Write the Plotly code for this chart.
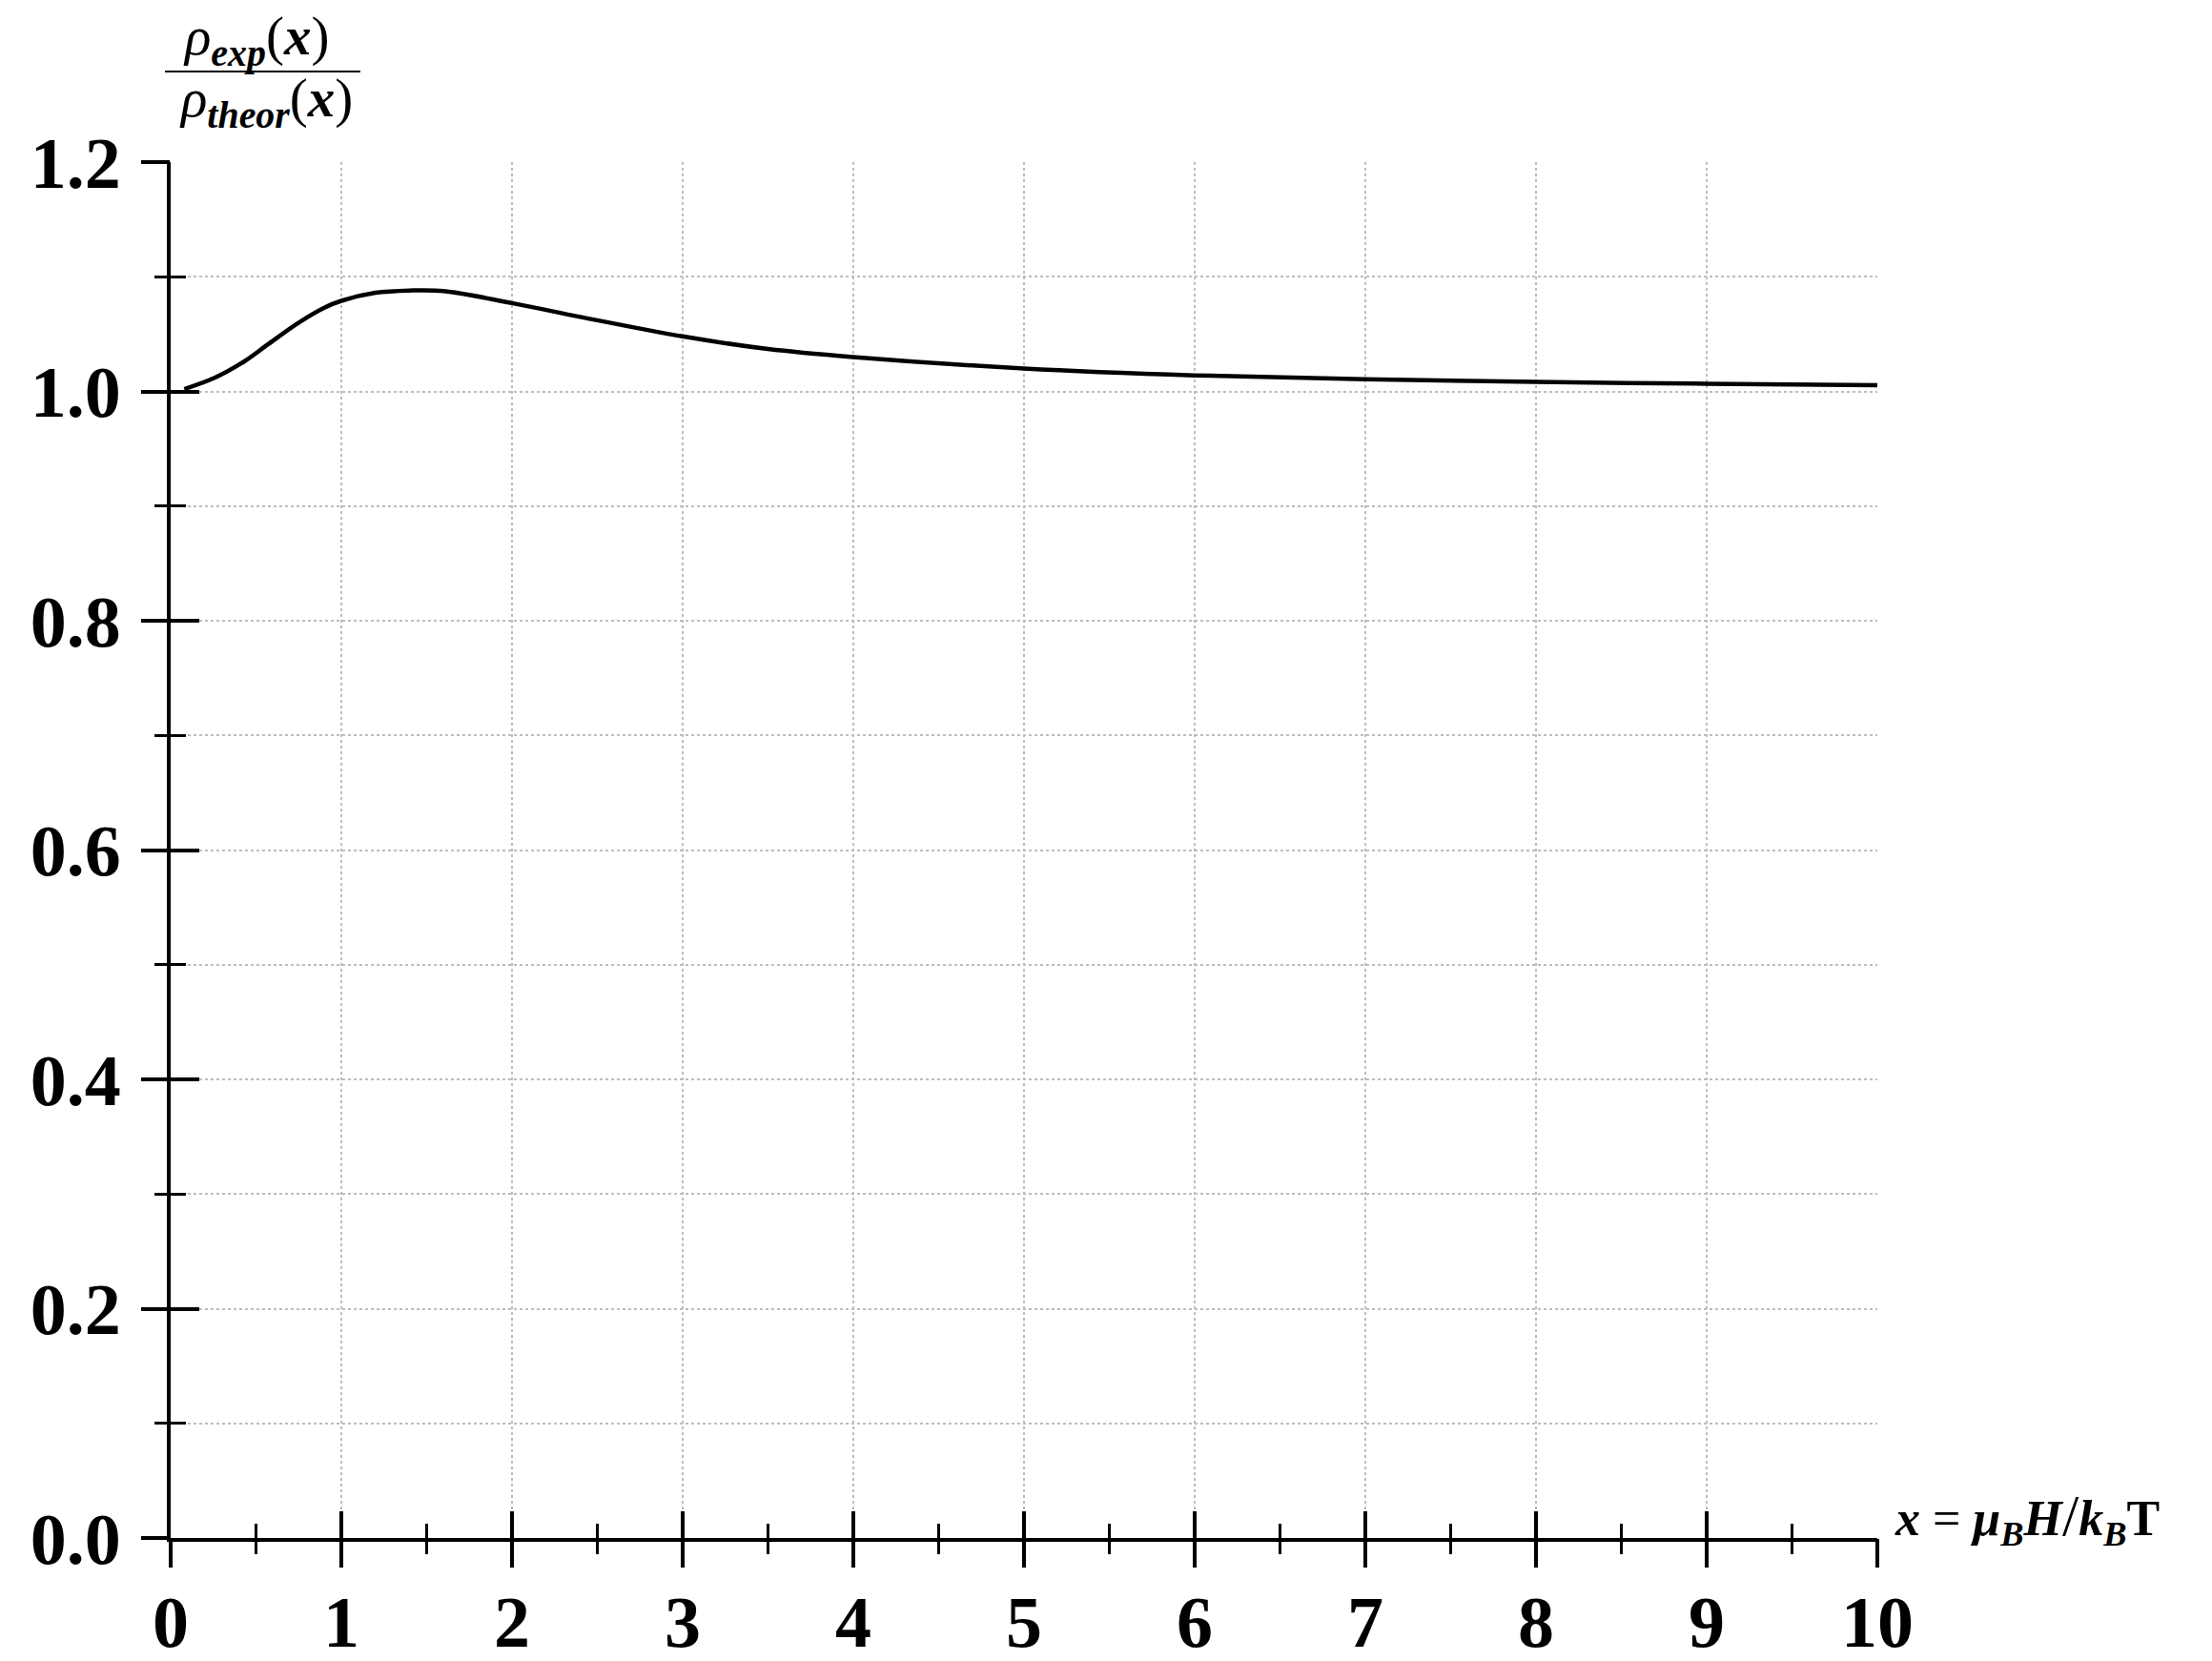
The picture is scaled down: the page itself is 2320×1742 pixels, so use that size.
import plotly.graph_objects as go

# ---- data ----
x_vals = [0.08, 0.26, 0.43, 0.57, 0.74, 0.9, 1.0, 1.2, 1.4, 1.6, 2.0, 2.4, 3.0, 3.5, 4.0,
          5.0, 6.0, 7.0, 8.0, 9.0, 10.0]
y_vals = [1.002, 1.012, 1.026, 1.041, 1.059, 1.073, 1.079, 1.086, 1.088, 1.0875, 1.077,
          1.065, 1.048, 1.037, 1.030, 1.020, 1.014, 1.0105, 1.0083, 1.0067, 1.0055]
x_ticks = [0, 1, 2, 3, 4, 5, 6, 7, 8, 9, 10]
x_tick_labels = ["0", "1", "2", "3", "4", "5", "6", "7", "8", "9", "10"]
y_ticks = [0.0, 0.2, 0.4, 0.6, 0.8, 1.0, 1.2]
y_tick_labels = ["0.0", "0.2", "0.4", "0.6", "0.8", "1.0", "1.2"]
x_minor = [0.5, 1.5, 2.5, 3.5, 4.5, 5.5, 6.5, 7.5, 8.5, 9.5]
y_minor = [0.1, 0.3, 0.5, 0.7, 0.9, 1.1]

OFF = 8  # default page body margin
W, H = 2320 - OFF, 1742 - OFF
L, T = 179 - OFF, 170 - OFF
PW, PH = 1790, 1443
R, B = W - L - PW, H - T - PH

def px(xp):
    return (xp - OFF - L) / PW

def py(yp):
    return (H - B - (yp - OFF)) / PH

FONT = "Liberation Serif"
tickfont = dict(family=FONT, size=76, color="black", weight="bold")
GRID = "#bdbdbd"

fig = go.Figure()
fig.add_trace(go.Scatter(x=x_vals, y=y_vals, mode="lines", line=dict(color="black", width=4.5, shape="spline"),
                         showlegend=False, hoverinfo="skip"))
# invisible trace carrying the outer half of the crossing ticks
fig.add_trace(go.Scatter(x=[0], y=[0], xaxis="x2", yaxis="y2", mode="markers",
                         marker=dict(opacity=0), showlegend=False, hoverinfo="skip"))

fig.update_layout(
    width=W, height=H,
    margin=dict(l=L, r=R, t=T, b=B, autoexpand=False),
    paper_bgcolor="white", plot_bgcolor="white",
    xaxis=dict(range=[0, 10], tickmode="array", tickvals=x_ticks, ticktext=x_tick_labels,
               ticks="inside", ticklen=28, tickwidth=4, tickcolor="black",
               showline=True, linewidth=4, linecolor="black", automargin=False,
               showgrid=True, gridcolor=GRID, griddash="dot", gridwidth=1.5,
               zeroline=False, tickfont=tickfont, ticklabelstandoff=19,
               minor=dict(tickvals=x_minor, ticks="inside", ticklen=15,
                          tickwidth=3, tickcolor="black", showgrid=False)),
    yaxis=dict(range=[0, 1.2], tickmode="array", tickvals=y_ticks, ticktext=y_tick_labels,
               ticks="inside", ticklen=30, tickwidth=4, tickcolor="black",
               showline=True, linewidth=4, linecolor="black", automargin=False,
               showgrid=True, gridcolor=GRID, griddash="dot", gridwidth=1.5,
               zeroline=False, tickfont=tickfont, ticklabelstandoff=33,
               minor=dict(tickvals=y_minor, ticks="inside", ticklen=16,
                          tickwidth=3, tickcolor="black",
                          showgrid=True, gridcolor=GRID, griddash="dot", gridwidth=1.5)),
    xaxis2=dict(overlaying="x", anchor="y", matches="x", range=[0, 10], tickmode="array",
                tickvals=x_ticks, ticks="outside", ticklen=30, tickwidth=4, tickcolor="black",
                showticklabels=False, showline=False, showgrid=False, zeroline=False, automargin=False,
                minor=dict(tickvals=x_minor, ticks="outside", ticklen=16,
                           tickwidth=3, tickcolor="black", showgrid=False)),
    yaxis2=dict(overlaying="y", anchor="x", matches="y", range=[0, 1.2], tickmode="array",
                tickvals=y_ticks, ticks="outside", ticklen=30, tickwidth=4, tickcolor="black",
                showticklabels=False, showline=False, showgrid=False, zeroline=False, automargin=False,
                minor=dict(tickvals=y_minor, ticks="outside", ticklen=16,
                           tickwidth=3, tickcolor="black", showgrid=False)),
)

# y-axis title as a fraction
fig.add_annotation(xref="paper", yref="paper", x=px(268), y=py(42), xanchor="center", yanchor="middle",
                   text="<i>ρ</i><sub><b><i>exp</i></b></sub>(<b><i>x</i></b>)", showarrow=False,
                   font=dict(family=FONT, size=57, color="black"))
fig.add_annotation(xref="paper", yref="paper", x=px(279), y=py(107), xanchor="center", yanchor="middle",
                   text="<i>ρ</i><sub><b><i>theor</i></b></sub>(<b><i>x</i></b>)", showarrow=False,
                   font=dict(family=FONT, size=57, color="black"))
fig.add_shape(type="line", xref="paper", yref="paper", x0=px(173), x1=px(378), y0=py(75), y1=py(75),
              line=dict(color="black", width=2))

# x-axis title
fig.add_annotation(xref="paper", yref="paper", x=px(1985), y=py(1592), xanchor="left", yanchor="middle",
                   text="<b><i>x</i></b> = <b><i>μ</i></b><sub><b><i>B</i></b></sub><b><i>H</i></b>"
                        "<span style='font-size:62px'>/</span><b><i>k</i></b><sub><b><i>B</i></b></sub><b>T</b>",
                   showarrow=False, font=dict(family=FONT, size=52, color="black"))

fig.write_html("out.html")
